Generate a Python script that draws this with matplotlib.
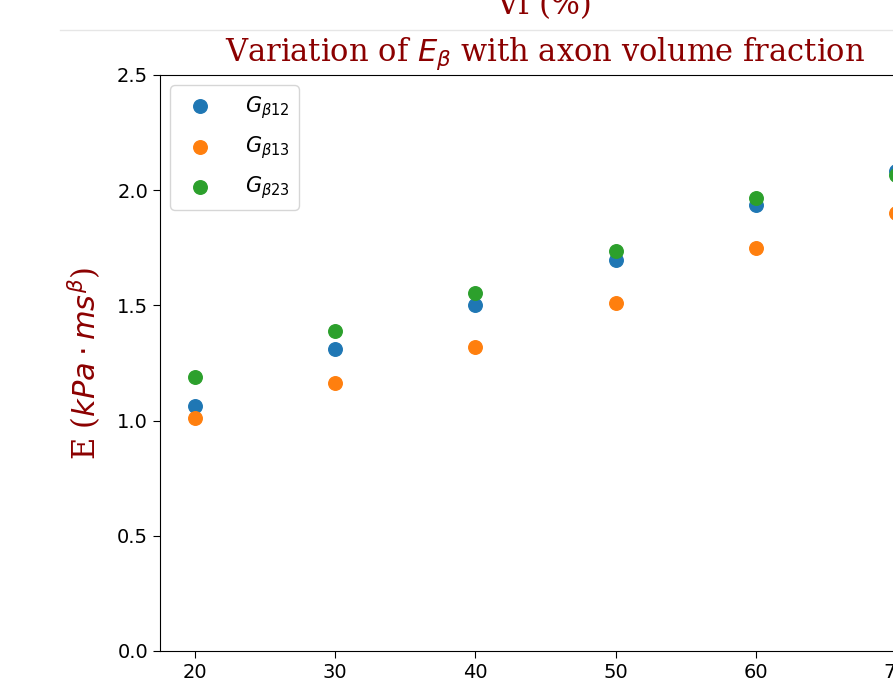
import numpy as np
import matplotlib
matplotlib.use('Agg')
import matplotlib.pyplot as plt
from matplotlib.lines import Line2D

# volume fraction (%)
vf = [20, 30, 40, 50, 60, 70]
g12 = [1.065, 1.31, 1.50, 1.695, 1.935, 2.085]
g13 = [1.010, 1.165, 1.32, 1.510, 1.748, 1.900]
g23 = [1.190, 1.390, 1.555, 1.735, 1.965, 2.065]
labels = [r'$G_{\beta 12}$', r'$G_{\beta 13}$', r'$G_{\beta 23}$']

W, H = 893, 692
fig = plt.figure(figsize=(W/100, H/100), dpi=100)

# left over from the plot above (cut off by the screenshot)
fig.text(544/W, 1 - 14/H, 'Vf (%)', family='DejaVu Serif', color='darkred',
         fontsize=22, ha='center', va='baseline')
fig.add_artist(Line2D([60/W, 1], [1 - 30/H, 1 - 30/H], transform=fig.transFigure,
                      color='#e6e6e6', lw=1))

ax = fig.add_axes([160/W, 41/H, 771/W, 576/H])
for y, lab in zip([g12, g13, g23], labels):
    ax.scatter(vf, y, s=95, label=lab, zorder=3)

ax.set_ylim(0, 2.5)
ax.set_yticks(np.arange(0, 2.51, 0.5))
ax.set_xticks(vf)
ax.tick_params(labelsize=14, length=5)
ax.set_title(r'Variation of $E_\beta$ with axon volume fraction', family='DejaVu Serif',
             color='darkred', fontsize=22, pad=10)
ax.set_ylabel(r'E ($kPa\cdot ms^\beta$)', family='DejaVu Serif', color='darkred',
              fontsize=22, labelpad=10)
ax.legend(loc='upper left', fontsize=15, labelspacing=0.65, handletextpad=1.2,
          borderpad=0.4, handlelength=2.0)

fig.savefig('out.png', dpi=100)
